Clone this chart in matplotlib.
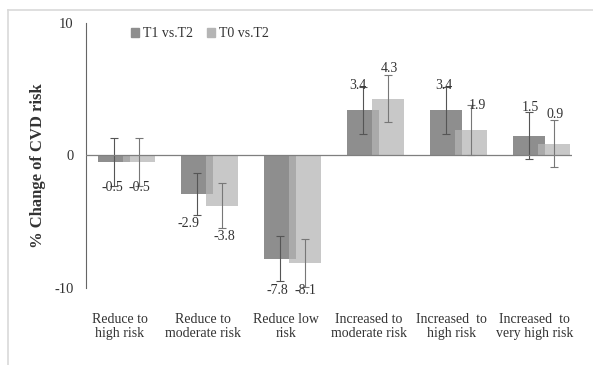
import matplotlib
matplotlib.use("Agg")
import matplotlib.pyplot as plt
from matplotlib.patches import Patch
import numpy as np

categories = ["Reduce to\nhigh risk", "Reduce to\nmoderate risk", "Reduce low\nrisk",
              "Increased to\nmoderate risk", "Increased  to\nhigh risk", "Increased  to\nvery high risk"]
t1_vs_t2 = [-0.5, -2.9, -7.8, 3.4, 3.4, 1.5]
t0_vs_t2 = [-0.5, -3.8, -8.1, 4.3, 1.9, 0.9]
t1_err = [1.8, 1.6, 1.7, 1.8, 1.8, 1.8]
t0_err = [1.8, 1.7, 1.8, 1.8, 1.9, 1.8]
series_names = ["T1 vs.T2", "T0 vs.T2"]
yticks = [-10, 0, 10]

# label offsets in pixels (layout, not data)
t1_lab_off = [(-2, -25), (-9, -30), (-3, -32), (-5, 25), (-2, 25), (1, 28)]
t0_lab_off = [(0, -25), (2, -31), (0, -28), (1, 30), (6, 25), (1, 29)]

plt.rcParams['font.family'] = ['Liberation Serif', 'DejaVu Serif']
dark = '#8e8e8e'
light = '#b5b5b5'

fig = plt.figure(figsize=(5.93, 3.65), dpi=100)
ax = fig.add_axes([0.145, 0.211, 0.8196, 0.726])

x = np.arange(len(categories))
w = 0.386
off = 0.15
ax.bar(x - off, t1_vs_t2, w, color=dark, zorder=2)
ax.bar(x + off, t0_vs_t2, w, color=light, alpha=0.74, zorder=3)
ax.errorbar(x - off, t1_vs_t2, yerr=t1_err, fmt='none', ecolor='#555555',
            elinewidth=0.8, capsize=3, capthick=0.8, zorder=4)
ax.errorbar(x + off, t0_vs_t2, yerr=t0_err, fmt='none', ecolor='#777777',
            elinewidth=0.8, capsize=3, capthick=0.8, zorder=4)
ax.axhline(0, color='#7f7f7f', lw=0.9, zorder=5)

for xs, vals, offs in [(x - off, t1_vs_t2, t1_lab_off), (x + off, t0_vs_t2, t0_lab_off)]:
    for xi, v, (dx, dy) in zip(xs, vals, offs):
        ax.annotate(f"{v:.1f}", (xi, v), xytext=(dx, dy), textcoords='offset pixels',
                    ha='center', va='center', fontsize=10, color='#333333', zorder=6)

ax.set_xlim(-0.488, 5.367)
ax.set_ylim(-10, 10)
ax.set_yticks(yticks)
ax.set_yticklabels([str(t) for t in yticks], fontsize=10.5, color='#333333')
ax.tick_params(axis='y', length=0, pad=9)
ax.set_xticks([])
for s in ['top', 'right', 'bottom']:
    ax.spines[s].set_visible(False)
ax.spines['left'].set_color('#666666')
ax.spines['left'].set_linewidth(0.8)

fig.text(38/593, 1 - 166/365, "% Change of CVD risk", rotation=90, ha='center', va='center',
         fontsize=12, fontweight='bold', color='#333333')

for xi, c in zip(x, categories):
    ax.text(xi - 0.08, -11.9, c, ha='center', va='top', fontsize=10, color='#333333',
            linespacing=1.05)

handles = [Patch(color=dark), Patch(color=light)]
fig.legend(handles, series_names, loc='center left', bbox_to_anchor=(0.199, 0.907),
           ncol=2, frameon=False, handlelength=0.6, handleheight=0.6, handletextpad=0.3,
           columnspacing=1.0, fontsize=10, labelcolor='#333333')

# outer frame lines
fig.add_artist(plt.Line2D([8/593, 8/593], [0, 1 - 10/365], color='#d9d9d9', lw=1.2))
fig.add_artist(plt.Line2D([8/593, 1], [1 - 10/365, 1 - 10/365], color='#d9d9d9', lw=1.2))

fig.savefig('out.png', dpi=100)
